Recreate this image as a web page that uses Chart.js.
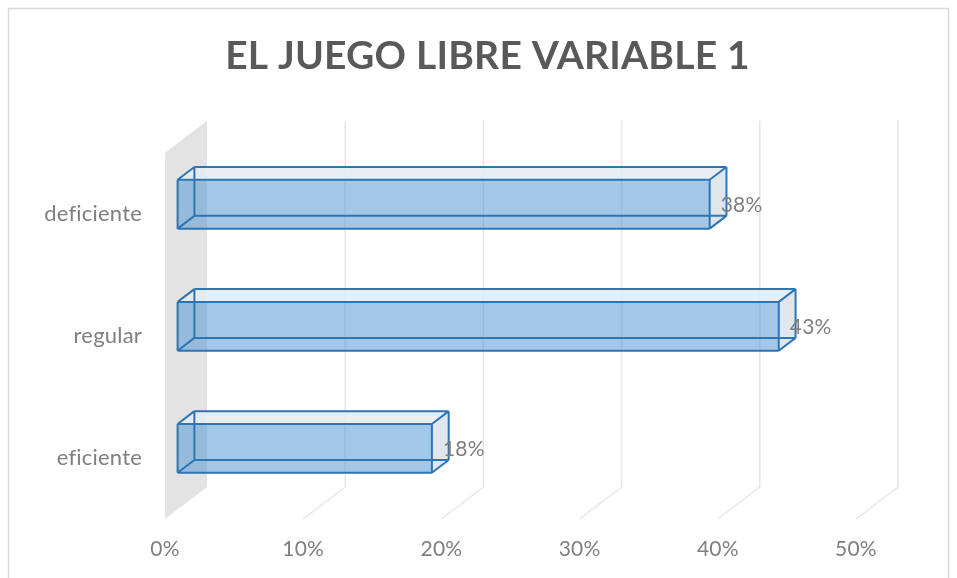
<!DOCTYPE html>
<html><head><meta charset="utf-8">
<script src="https://cdn.jsdelivr.net/npm/chart.js@4"></script>
<style>html,body{margin:0;padding:0;background:#fff;}#wrap{width:957px;height:578px;}</style>
</head><body><div id="wrap"><canvas id="c" width="957" height="578"></canvas></div>
<script>
const categories = ['deficiente', 'regular', 'eficiente'];
const values = [0.385, 0.435, 0.184];
const valueLabels = ['38%', '43%', '18%'];
const xMin = 0, xMax = 0.5, xStep = 0.1;
const titleText = 'EL JUEGO LIBRE VARIABLE 1';

const DEPTH = {dx: 42, dy: -32};
const BAR_F0 = 0.3, BAR_F1 = 0.7;
const FONT = 'Lato';
const TITLE_CENTER_X = 487.5;

const threeD = {
  id: 'threeD',
  afterLayout(chart) {
    const tb = chart.titleBlock;
    if (tb) { tb.left = 0; tb.right = TITLE_CENTER_X * 2; }
  },
  beforeDraw(chart) {
    const ctx = chart.ctx;
    ctx.save();
    ctx.strokeStyle = '#d9d9d9';
    ctx.lineWidth = 1.5;
    ctx.strokeRect(8.5, 8.5, 940, 600);
    ctx.restore();
    try { ctx.letterSpacing = '0.2px'; } catch (e) {}
  },
  beforeDatasetsDraw(chart) {
    const ctx = chart.ctx, xs = chart.scales.x, ca = chart.chartArea;
    const x0 = xs.getPixelForValue(xMin);
    ctx.save();
    ctx.fillStyle = '#e3e3e3';
    ctx.beginPath();
    ctx.moveTo(x0, ca.top);
    ctx.lineTo(x0 + DEPTH.dx, ca.top + DEPTH.dy);
    ctx.lineTo(x0 + DEPTH.dx, ca.bottom + DEPTH.dy);
    ctx.lineTo(x0, ca.bottom);
    ctx.closePath();
    ctx.fill();
    ctx.strokeStyle = '#e6e6e6';
    ctx.lineWidth = 1.5;
    ctx.beginPath();
    xs.ticks.forEach(t => {
      if (t.value <= xMin) return;
      const px = xs.getPixelForValue(t.value);
      ctx.moveTo(px + DEPTH.dx, ca.top + DEPTH.dy);
      ctx.lineTo(px + DEPTH.dx, ca.bottom + DEPTH.dy);
      ctx.lineTo(px, ca.bottom);
    });
    ctx.stroke();
    const meta = chart.getDatasetMeta(0);
    meta.data.forEach(el => {
      const p = el.getProps(['x', 'y', 'base', 'height'], true);
      const L = Math.min(p.base, p.x), R = Math.max(p.base, p.x);
      const T = p.y - p.height / 2, B = p.y + p.height / 2;
      const fx = BAR_F0 * DEPTH.dx, fy = BAR_F0 * DEPTH.dy;
      const bx = BAR_F1 * DEPTH.dx, by = BAR_F1 * DEPTH.dy;
      const F = {tl: [L + fx, T + fy], tr: [R + fx, T + fy], br: [R + fx, B + fy], bl: [L + fx, B + fy]};
      const K = {tl: [L + bx, T + by], tr: [R + bx, T + by], br: [R + bx, B + by], bl: [L + bx, B + by]};
      const poly = (pts, fill) => {
        ctx.beginPath();
        ctx.moveTo(pts[0][0], pts[0][1]);
        for (let i = 1; i < pts.length; i++) ctx.lineTo(pts[i][0], pts[i][1]);
        ctx.closePath();
        ctx.fillStyle = fill;
        ctx.fill();
      };
      poly([F.tl, K.tl, K.tr, K.br, F.br, F.bl], 'rgba(91,155,213,0.30)');
      poly([F.tl, F.tr, K.tr, K.tl], 'rgba(236,240,245,0.85)');
      poly([F.tr, K.tr, K.br, F.br], 'rgba(226,231,236,0.85)');
      poly([F.tl, F.tr, F.br, F.bl], 'rgba(91,155,213,0.38)');
      ctx.strokeStyle = '#2e75b6';
      ctx.lineWidth = 2;
      ctx.lineJoin = 'round';
      ctx.beginPath();
      const edges = [[F.tl, F.tr], [F.tr, F.br], [F.br, F.bl], [F.bl, F.tl],
                     [K.tl, K.tr], [K.tr, K.br], [K.br, K.bl], [K.bl, K.tl],
                     [F.tl, K.tl], [F.tr, K.tr], [F.br, K.br], [F.bl, K.bl]];
      edges.forEach(e => { ctx.moveTo(e[0][0], e[0][1]); ctx.lineTo(e[1][0], e[1][1]); });
      ctx.stroke();
    });
    ctx.restore();
  },
  afterDatasetsDraw(chart) {
    const ctx = chart.ctx;
    const meta = chart.getDatasetMeta(0);
    ctx.save();
    ctx.font = '21px ' + FONT;
    ctx.fillStyle = '#7f7f7f';
    ctx.textAlign = 'left';
    ctx.textBaseline = 'middle';
    meta.data.forEach((el, i) => {
      const p = el.getProps(['x', 'y', 'base', 'height'], true);
      const R = Math.max(p.base, p.x) + BAR_F0 * DEPTH.dx;
      const cy = p.y + BAR_F0 * DEPTH.dy;
      ctx.fillText(valueLabels[i], R + 11, cy + 1);
    });
    ctx.restore();
  }
};

new Chart(document.getElementById('c'), {
  type: 'bar',
  data: {
    labels: categories,
    datasets: [{
      data: values,
      backgroundColor: 'rgba(0,0,0,0)',
      borderWidth: 0,
      categoryPercentage: 1,
      barPercentage: 0.4
    }]
  },
  options: {
    indexAxis: 'y',
    responsive: false,
    animation: false,
    devicePixelRatio: 1,
    layout: {padding: {left: 0, right: 101, top: 0, bottom: 0}},
    plugins: {
      legend: {display: false},
      tooltip: {enabled: false},
      title: {
        display: true,
        text: titleText,
        color: '#595959',
        font: {family: FONT, size: 39, weight: 'bold'},
        padding: {top: 33, bottom: 73}
      }
    },
    scales: {
      x: {
        type: 'linear',
        min: xMin, max: xMax,
        grid: {display: false, drawTicks: false},
        border: {display: false},
        ticks: {
          stepSize: xStep,
          color: '#7f7f7f',
          font: {family: FONT, size: 21},
          padding: 18,
          callback: v => Math.round(v * 100) + '%'
        },
        afterFit: s => { s.height = 59; }
      },
      y: {
        type: 'category',
        grid: {display: false, drawTicks: false},
        border: {display: false},
        ticks: {
          color: '#7f7f7f',
          font: {family: FONT, size: 22},
          padding: 23
        },
        afterFit: s => { s.width = 165; }
      }
    }
  },
  plugins: [threeD]
});
</script>
</body></html>
